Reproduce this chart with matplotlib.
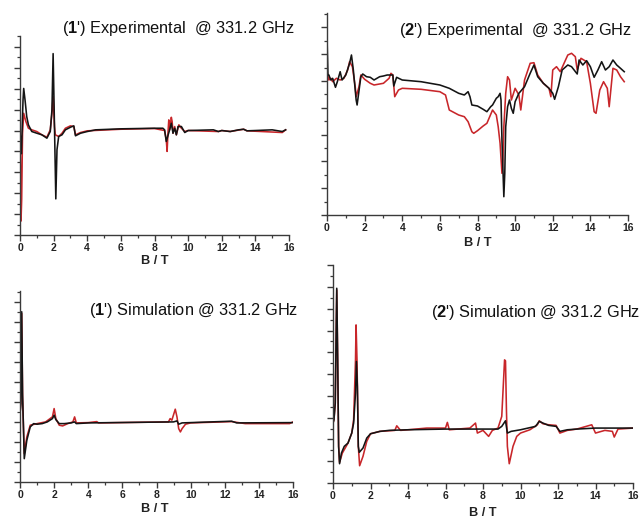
import numpy as np
import matplotlib
matplotlib.use("Agg")
import matplotlib.pyplot as plt
from matplotlib.ticker import MultipleLocator, NullFormatter

plt.rcParams['font.family'] = ['Liberation Sans', 'DejaVu Sans']
plt.rcParams['mathtext.fontset'] = 'custom'
plt.rcParams['mathtext.rm'] = 'Liberation Sans'
plt.rcParams['mathtext.bf'] = 'Liberation Sans:bold'

# ---------------- data (B / T vs. arbitrary intensity) ----------------
# (1') Experimental
exp1_black_x = [0, 0.04, 0.08, 0.12, 0.18, 0.22, 0.3, 0.4, 0.5, 0.7, 1.0, 1.3, 1.6, 1.8, 1.9, 1.97, 2.05, 2.13, 2.2, 2.3,
                2.5, 2.7, 3.0, 3.2, 3.3, 3.6, 4.0, 4.5, 6, 8, 8.5, 8.6, 8.7, 8.9, 9.0, 9.1, 9.2, 9.3, 9.4, 9.6, 9.8,
                10.0, 11.5, 11.8, 12.0, 12.5, 13.0, 13.3, 13.5, 14, 15, 15.6, 15.8]
exp1_black_y = [105, 92.3, 81.7, 102.3, 135.7, 147.3, 135.7, 119, 110.7, 104, 102.3, 100.7, 97.3, 104, 125.7, 182.3, 110,
                36.3, 85.7, 99, 100.7, 105.7, 108.3, 109.7, 99.7, 102.3, 104, 105.7, 106.7, 107.3, 107.3, 105.7, 94,
                105.7, 112.3, 102.3, 107.3, 100.7, 109, 109, 103, 105, 105.7, 104, 105, 104, 105.7, 106.3, 104.7, 105,
                105.7, 104, 105.7]
exp1_red_x = [0, 0.03, 0.06, 0.1, 0.15, 0.22, 0.35, 0.5, 0.7, 1.0, 1.3, 1.6, 1.8, 1.9, 1.97, 2.05, 2.1, 2.3, 2.5, 2.7,
              3.0, 3.2, 3.3, 3.6, 4.0, 6.0, 8.0, 8.6, 8.7, 8.75, 8.8, 8.85, 8.9, 9.0, 9.05, 9.1, 9.2, 9.3, 9.45, 9.6,
              9.8, 10, 11.8, 12.0, 12.5, 13.3, 13.5, 15.6, 15.8]
exp1_red_y = [105.7, 69, 14, 35.7, 102.3, 122.3, 114, 107.3, 105.7, 104, 100.7, 98.3, 105.7, 122.3, 139, 109, 100.7, 99,
              102.3, 107.3, 109.7, 109, 100.7, 103, 104.7, 106.3, 107, 105, 95.7, 84, 102.3, 115.7, 105.7, 118.3, 114,
              102.3, 109, 100.7, 110.7, 107.3, 104, 105, 104, 105, 104, 106.3, 104.7, 103, 105.7]

# (2') Experimental
exp2_black_x = [0, 0.05, 0.1, 0.2, 0.3, 0.45, 0.55, 0.7, 0.8, 1.0, 1.2, 1.3, 1.4, 1.55, 1.6, 1.8, 1.9, 2.1, 2.3, 2.5,
                2.8, 3.0, 3.2, 3.5, 3.55, 3.7, 4.0, 5.0, 6.0, 6.5, 7.0, 7.3, 7.5, 7.6, 7.7, 8.0, 8.3, 8.5, 8.7, 8.8,
                9.0, 9.1, 9.2, 9.25, 9.3, 9.4, 9.45, 9.5, 9.6, 9.7, 9.8, 9.9, 10.0, 10.2, 10.5, 10.8, 11.0, 11.2,
                11.5, 11.8, 12.0, 12.1, 12.3, 12.5, 12.8, 13.0, 13.3, 13.4, 13.6, 13.8, 14.0, 14.2, 14.4, 14.6, 14.8,
                15.0, 15.2, 15.4, 15.6, 15.8]
exp2_black_y = [178.3, 140, 140, 135, 136.7, 127.7, 133.3, 143.3, 135, 140, 151.7, 160, 145, 115, 110, 138.3, 141,
                138.3, 137.7, 135, 138.3, 139, 140, 140, 129, 137.7, 135, 133.3, 130, 126.7, 121.7, 120, 123.3, 118.3,
                110, 109, 105.7, 103.3, 108.3, 110, 116.7, 118.3, 121.7, 115, 75, 18.3, 41.7, 88.3, 108.3, 115, 106.7,
                101.7, 113.3, 121.7, 128.3, 141.7, 150, 138.3, 131.7, 126.7, 121.7, 115.7, 128.3, 145, 150, 148.3,
                141, 155, 150, 154.3, 148.3, 137.7, 145, 153.3, 145, 148.3, 155, 150, 146.7, 143.3]
exp2_red_x = [0, 0.1, 0.2, 0.3, 0.5, 0.7, 0.9, 1.1, 1.2, 1.35, 1.5, 1.55, 1.7, 1.8, 2.0, 2.3, 2.5, 3.0, 3.3, 3.4, 3.5,
              3.6, 3.8, 4.0, 5.0, 6.0, 6.3, 6.5, 7.0, 7.3, 7.5, 7.7, 7.8, 8.0, 8.3, 8.5, 8.8, 9.0, 9.1, 9.2, 9.3,
              9.35, 9.4, 9.5, 9.6, 9.7, 9.8, 10.0, 10.2, 10.3, 10.5, 10.8, 11.0, 11.2, 11.5, 11.8, 11.9, 12.0, 12.2,
              12.4, 12.6, 12.8, 13.0, 13.2, 13.3, 13.5, 13.8, 14.0, 14.2, 14.3, 14.5, 14.7, 14.9, 15.0, 15.2, 15.4,
              15.6, 15.8]
exp2_red_y = [143.3, 135, 136.7, 133.3, 136.7, 135, 136.7, 145, 153.3, 148.3, 128.3, 118.3, 128.3, 140, 135.7, 131.7,
              130, 131.7, 136.7, 141.7, 140, 118.3, 125, 126.7, 125.7, 123.3, 120, 105, 100, 98.3, 93.3, 83.3, 81.7,
              84.3, 89, 91.7, 105, 100, 88.3, 71.7, 41.7, 55, 88.3, 121.7, 138.3, 135, 115, 126.7, 120, 105, 135,
              151.7, 152.3, 140, 131.7, 126.7, 118.3, 145, 148.3, 143.3, 151.7, 160, 161.7, 158.3, 145, 156.7, 153.3,
              131.7, 103.3, 101.7, 125, 133.3, 126.7, 108.3, 146.7, 145, 138.3, 133.3]

# (1') Simulation
sim1_black_x = [0, 0.05, 0.1, 0.15, 0.25, 0.4, 0.6, 0.8, 1.0, 1.3, 1.6, 1.9, 2.0, 2.1, 2.3, 2.6, 3.0, 3.2, 3.3, 4, 9.0,
                9.2, 9.3, 9.5, 10, 12.4, 12.7, 16]
sim1_black_y = [68.3, 78.3, 170, 88.3, 23.3, 41.7, 55, 58.3, 57.7, 58.3, 60, 63.3, 66.7, 62.3, 58.3, 58.3, 59, 60, 58.3,
                59, 60, 61, 57.7, 59, 59.3, 60.7, 59, 59.3]
sim1_red_x = [0, 0.05, 0.1, 0.15, 0.25, 0.4, 0.6, 1.0, 1.5, 1.9, 2.0, 2.1, 2.3, 2.5, 2.8, 3.1, 3.2, 3.3, 4, 4.5, 4.6,
              8.7, 8.8, 8.9, 9.1, 9.2, 9.3, 9.4, 9.5, 9.7, 10, 12.4, 13.2, 15.8, 16]
sim1_red_y = [68.3, 78.3, 168.3, 85, 28.3, 45, 56.7, 58.3, 60, 65, 73.3, 63.3, 56.7, 56, 58.3, 60, 65, 59, 59.3, 60.3,
              59, 60, 63.3, 61.7, 72.7, 65, 53.3, 50, 53.3, 57.7, 59, 60.3, 58.3, 58.3, 60]

# (2') Simulation
sim2_black_x = [0, 0.05, 0.12, 0.2, 0.25, 0.3, 0.35, 0.45, 0.6, 0.8, 1.0, 1.1, 1.2, 1.25, 1.3, 1.35, 1.4, 1.6, 1.8, 2.0,
                2.5, 3, 4, 6, 8.8, 9.0, 9.2, 9.3, 9.5, 10, 10.8, 11.0, 11.2, 11.5, 11.9, 12.1, 12.5, 13, 14, 16]
sim2_black_y = [60, 63.3, 80, 195, 123.3, 36.7, 19.3, 30, 36.7, 40, 50, 60, 90, 121.7, 96.7, 36.7, 30.7, 35, 45, 49.3,
                51.7, 52.7, 53.3, 54, 54, 56.7, 62.3, 50, 51.7, 53.3, 56.7, 61.7, 60, 57.7, 56.7, 51.7, 53.3, 54, 55, 55]
sim2_red_x = [0, 0.05, 0.12, 0.2, 0.25, 0.3, 0.35, 0.5, 0.8, 1.0, 1.1, 1.2, 1.23, 1.28, 1.35, 1.42, 1.6, 1.8, 2.0, 2.5,
              3.3, 3.4, 3.6, 4, 5, 6, 6.1, 6.2, 7.3, 7.6, 7.7, 8.0, 8.3, 8.5, 8.8, 9.0, 9.15, 9.2, 9.25, 9.3, 9.4,
              9.6, 9.8, 10, 10.5, 10.9, 11.0, 11.2, 11.5, 11.9, 12.1, 12.5, 13, 13.8, 14.0, 14.5, 14.9, 15.0, 15.2, 16]
sim2_red_y = [60, 63.3, 80, 193.3, 123.3, 36.7, 20.7, 30, 40, 50, 63.3, 123.3, 158.3, 123.3, 36.7, 17.3, 26.7, 41.7,
              49.3, 51.7, 52.7, 57.3, 52.7, 53.3, 55, 55, 60.7, 53.3, 55, 60, 50, 52.7, 46.7, 52.7, 55, 66.7, 123.3,
              122.3, 73.3, 36.7, 19.3, 36.7, 46.7, 50, 53.3, 58.3, 62.3, 59.3, 58.3, 57.7, 50, 52.7, 54, 58.3, 50,
              52.7, 51.7, 46, 54, 55]

# ---------------- figure ----------------
W, H = 642, 521
fig = plt.figure(figsize=(W / 100, H / 100), dpi=100)
fig.patch.set_facecolor('white')

BLACK = '#141414'
RED = '#c8262a'
AXC = '#3a3a3a'


def px_axes(left, right, top, bottom):
    return fig.add_axes([left / W, 1 - bottom / H, (right - left) / W, (bottom - top) / H])


panels = [
    # (axes px box), ymax, y-tick step, title, title anchor px, xlabel anchor px, data
    ((20, 289, 36, 235), 200.0, 10.5, r"($\mathbf{1}$') Experimental  @ 331.2 GHz", (295, 29), (155, 261),
     (exp1_red_x, exp1_red_y, exp1_black_x, exp1_black_y)),
    ((327, 628, 13, 215), 202.0, 13.4, r"($\mathbf{2}$') Experimental  @ 331.2 GHz", (632, 30), (478, 243),
     (exp2_red_x, exp2_red_y, exp2_black_x, exp2_black_y)),
    ((20, 293, 291, 482), 190.7, 10.0, r"($\mathbf{1}$') Simulation @ 331.2 GHz", (298, 310), (155, 509),
     (sim1_red_x, sim1_red_y, sim1_black_x, sim1_black_y)),
    ((333, 633, 265, 483), 218.3, 10.9, r"($\mathbf{2}$') Simulation @ 331.2 GHz", (640, 312), (483, 513),
     (sim2_red_x, sim2_red_y, sim2_black_x, sim2_black_y)),
]

for box, ymax, ystep, title, tpos, xlpos, (rx, ry, bx, by) in panels:
    ax = px_axes(*box)
    ax.plot(rx, ry, color=RED, lw=1.15, solid_joinstyle='round')
    ax.plot(bx, by, color=BLACK, lw=1.15, solid_joinstyle='round')
    ax.set_xlim(0, 16)
    ax.set_ylim(0, ymax)
    for s in ('top', 'right'):
        ax.spines[s].set_visible(False)
    for s in ('left', 'bottom'):
        ax.spines[s].set_color(AXC)
        ax.spines[s].set_linewidth(1.0)
    ax.xaxis.set_major_locator(MultipleLocator(2))
    ax.xaxis.set_minor_locator(MultipleLocator(1))
    ax.yaxis.set_major_locator(MultipleLocator(2 * ystep))
    ax.yaxis.set_minor_locator(MultipleLocator(ystep))
    ax.yaxis.set_major_formatter(NullFormatter())
    ax.tick_params(axis='both', which='major', direction='out', length=4, width=1.0, color=AXC)
    ax.tick_params(axis='both', which='minor', direction='out', length=2.5, width=0.9, color=AXC)
    ax.tick_params(axis='x', which='major', labelsize=7.5, pad=2, labelcolor='#222222')
    for lab in ax.get_xticklabels():
        lab.set_fontweight('bold')
    fig.text(tpos[0] / W, 1 - tpos[1] / H, title, ha='right', va='center', fontsize=11.8, color='#111111')
    fig.text(xlpos[0] / W, 1 - xlpos[1] / H, 'B / T', ha='center', va='center', fontsize=9.2,
             fontweight='bold', color='#222222')

fig.savefig('out.png', dpi=100, facecolor='white')
